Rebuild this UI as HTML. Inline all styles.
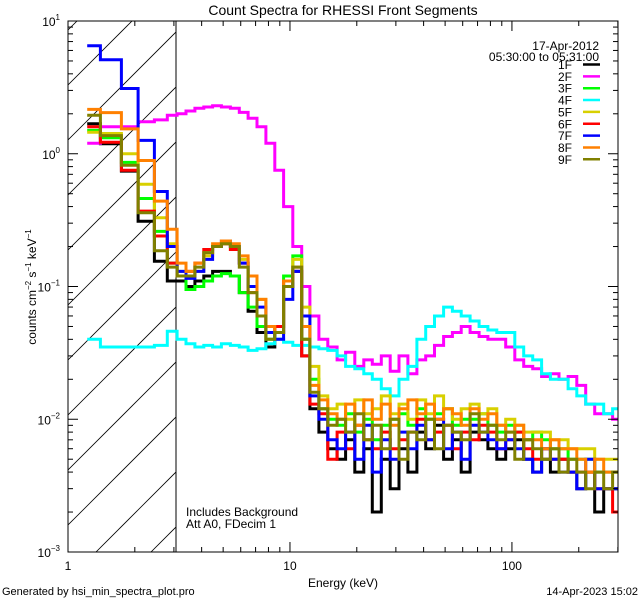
<!DOCTYPE html>
<html><head><meta charset="utf-8"><style>
html,body{margin:0;padding:0;background:#fff;width:640px;height:600px;overflow:hidden}
svg{display:block;font-family:"Liberation Sans",sans-serif}
</style></head><body>
<svg id="chart" width="640" height="600" viewBox="0 0 640 600" xmlns="http://www.w3.org/2000/svg">
<rect width="640" height="600" fill="#fff"/>
<defs>
<clipPath id="plotclip"><rect x="68" y="21" width="550" height="531"/></clipPath>
<clipPath id="hatchclip"><rect x="68" y="21" width="108" height="531"/></clipPath>
</defs>
<text x="343" y="15" font-size="14" text-anchor="middle">Count Spectra for RHESSI Front Segments</text>
<g id="hatch" clip-path="url(#hatchclip)"></g>
<line x1="176" y1="21" x2="176" y2="552" stroke="#000" stroke-width="1"/>
<g id="series" clip-path="url(#plotclip)"></g>
<rect x="68" y="21" width="550" height="531" fill="none" stroke="#000" stroke-width="1"/>
<g id="axes"></g>
<text x="343" y="587" font-size="12" text-anchor="middle">Energy (keV)</text>
<text transform="translate(36,287) rotate(-90)" font-size="12" text-anchor="middle">counts cm<tspan font-size="8" dy="-5">−2</tspan><tspan dy="5"> s</tspan><tspan font-size="8" dy="-5">−1</tspan><tspan dy="5"> keV</tspan><tspan font-size="8" dy="-5">−1</tspan></text>
<text x="186" y="516" font-size="12">Includes Background</text>
<text x="186" y="528" font-size="12">Att A0, FDecim 1</text>
<text x="2" y="595" font-size="11">Generated by hsi_min_spectra_plot.pro</text>
<text x="638" y="595" font-size="11" text-anchor="end">14-Apr-2023 15:02</text>
<text x="599" y="50" font-size="12" text-anchor="end">17-Apr-2012</text>
<text x="599" y="61" font-size="12" text-anchor="end">05:30:00 to 05:31:00</text>
<g id="legend"></g>
</svg>
<script>
const edges=[1.22,1.40,1.74,2.07,2.45,2.80,3.1,3.40,3.73,4.09,4.48,4.91,5.39,5.91,6.48,7.10,7.79,8.54,9.36,10.3,11.3,12.3,13.5,14.8,16.3,17.8,19.6,21.5,23.5,25.8,28.3,31.0,34.0,37.3,40.9,44.8,49.2,53.9,59.1,64.8,71.1,77.9,85.5,93.7,103,113,124,136,149,163,179,196,215,236,259,284,311];
const names=["1F","2F","3F","4F","5F","6F","7F","8F","9F"];
const colors=["#000000","#ff00ff","#00ff00","#00ffff","#d8d000","#ff0000","#0000ff","#ff8000","#808000"];
const s1F=[1.68,1.19,0.74,0.31,0.155,0.11, 0.11,0.1,0.11,0.12,0.13,0.13,0.12,0.09,0.065,0.045,0.035,0.045,0.1,0.13,0.03, 0.012,0.008,0.006,0.005,0.007,0.004,0.006,0.002,0.005,0.003,0.006,0.004,0.008,0.006,0.009,0.005,0.007,0.004,0.008,0.007,0.006,0.005,0.006,0.007,0.005,0.004,0.005,0.004,0.005,0.004,0.003,0.004,0.002,0.003,0.003];
const s2F=[1.2,1.6,1.6,1.74,1.8,1.95, 2.0,2.1,2.2,2.25,2.3,2.25,2.2,2.05,1.85,1.6,1.2,0.75,0.4,0.2,0.1, 0.06,0.04,0.035,0.028,0.032,0.025,0.028,0.026,0.03,0.023,0.03,0.022,0.028,0.03,0.036,0.042,0.045,0.05,0.045,0.042,0.04,0.04,0.035,0.028,0.025,0.024,0.021,0.022,0.02,0.021,0.018,0.013,0.011,0.011,0.01];
const s3F=[1.5,1.32,0.86,0.46,0.26,0.15, 0.12,0.095,0.1,0.11,0.12,0.125,0.12,0.09,0.07,0.05,0.04,0.05,0.12,0.17,0.04, 0.02,0.012,0.01,0.009,0.011,0.008,0.01,0.007,0.009,0.01,0.011,0.009,0.012,0.01,0.011,0.012,0.009,0.01,0.01,0.011,0.009,0.008,0.009,0.008,0.007,0.008,0.007,0.006,0.006,0.005,0.005,0.005,0.004,0.004,0.004];
const s4F=[0.04,0.035,0.035,0.035,0.036,0.046, 0.04,0.037,0.035,0.036,0.035,0.037,0.036,0.035,0.033,0.034,0.037,0.04,0.038,0.036,0.036, 0.035,0.034,0.033,0.03,0.025,0.024,0.022,0.02,0.017,0.015,0.02,0.025,0.04,0.05,0.06,0.07,0.065,0.06,0.055,0.05,0.047,0.045,0.045,0.035,0.03,0.028,0.022,0.02,0.02,0.017,0.015,0.013,0.013,0.011,0.012];
const s5F=[1.45,1.42,1.0,0.59,0.33,0.21, 0.13,0.12,0.13,0.17,0.2,0.21,0.19,0.16,0.12,0.08,0.045,0.05,0.1,0.16,0.07, 0.025,0.015,0.012,0.013,0.01,0.014,0.011,0.012,0.015,0.011,0.013,0.01,0.014,0.011,0.015,0.012,0.01,0.012,0.013,0.011,0.012,0.009,0.01,0.009,0.008,0.008,0.008,0.007,0.007,0.006,0.006,0.006,0.005,0.005,0.005];
const s6F=[1.6,1.22,0.75,0.37,0.24,0.15, 0.12,0.13,0.15,0.19,0.2,0.21,0.19,0.15,0.09,0.06,0.045,0.05,0.11,0.13,0.03, 0.013,0.011,0.005,0.008,0.006,0.009,0.007,0.006,0.008,0.006,0.007,0.008,0.01,0.007,0.008,0.009,0.006,0.008,0.007,0.009,0.008,0.006,0.007,0.008,0.006,0.005,0.006,0.005,0.005,0.004,0.004,0.004,0.003,0.003,0.002];
const s7F=[6.5,5.1,3.1,1.26,0.52,0.20, 0.13,0.115,0.13,0.16,0.2,0.22,0.2,0.15,0.1,0.07,0.045,0.04,0.08,0.13,0.06, 0.015,0.01,0.007,0.006,0.008,0.005,0.009,0.004,0.007,0.005,0.008,0.006,0.009,0.007,0.01,0.006,0.008,0.005,0.009,0.008,0.007,0.006,0.007,0.006,0.005,0.004,0.006,0.005,0.004,0.004,0.003,0.005,0.003,0.003,0.003];
const s8F=[2.16,2.04,1.54,0.89,0.44,0.27, 0.15,0.13,0.15,0.18,0.21,0.22,0.21,0.17,0.12,0.08,0.05,0.045,0.11,0.14,0.05, 0.018,0.014,0.011,0.01,0.013,0.009,0.014,0.01,0.013,0.009,0.012,0.014,0.011,0.013,0.01,0.012,0.011,0.009,0.012,0.01,0.011,0.009,0.008,0.009,0.007,0.007,0.006,0.007,0.006,0.006,0.005,0.004,0.005,0.004,0.004];
const s9F=[1.95,1.37,0.82,0.36,0.186,0.14, 0.12,0.12,0.14,0.18,0.2,0.21,0.2,0.14,0.09,0.06,0.04,0.045,0.1,0.14,0.04, 0.016,0.012,0.009,0.01,0.008,0.011,0.007,0.009,0.006,0.01,0.005,0.008,0.007,0.01,0.006,0.009,0.008,0.007,0.011,0.008,0.009,0.007,0.008,0.005,0.007,0.006,0.005,0.006,0.004,0.005,0.004,0.003,0.004,0.003,0.004];
const series=[s1F,s2F,s3F,s4F,s5F,s6F,s7F,s8F,s9F];
const xTicks=[1,10,100];
const xTickLabels=["1","10","100"];
const yTicks=[10,1,0.1,0.01,0.001];
const yTickExp=["1","0","−1","−2","−3"];

const X0=68,X1=618,Y0=21,Y1=552;
const xMin=Math.log10(1),xMax=Math.log10(300.5),yMin=-3,yMax=1;
const xs=e=>X0+(Math.log10(e)-xMin)/(xMax-xMin)*(X1-X0);
const ys=v=>Y1-(Math.log10(v)-yMin)/(yMax-yMin)*(Y1-Y0);
const NS="http://www.w3.org/2000/svg";
const mk=(t,a,p)=>{const e=document.createElementNS(NS,t);for(const k in a)e.setAttribute(k,a[k]);p.appendChild(e);return e;};

const hg=document.getElementById('hatch');
for(let c=-600;c<700;c+=55){
 const l=mk('line',{x1:X0,y1:c+80,x2:X0+600,y2:c+80-600,stroke:'#000','stroke-width':0.8},hg);
 
 
}

const sg=document.getElementById('series');
series.forEach((vals,i)=>{
 let d='';
 vals.forEach((v,j)=>{
  const xa=xs(edges[j]),xb=xs(edges[j+1]),y=ys(v);
  d+=(j===0?'M':'L')+xa.toFixed(1)+','+y.toFixed(1)+'L'+xb.toFixed(1)+','+y.toFixed(1);
 });
 const p=mk('path',{d:d,fill:'none',stroke:colors[i],'stroke-width':3,'stroke-linejoin':'miter'},sg);
 
 
});

const ag=document.getElementById('axes');
for(let dec=0;dec<3;dec++){
 for(let m=1;m<10;m++){
  const e=m*Math.pow(10,dec); if(e>300.5)continue;
  const x=xs(e),len=(m===1)?10:5;
  const t1=mk('line',{x1:x,y1:Y1,x2:x,y2:Y1-len,stroke:'#000'},ag);
  
  
  const t2=mk('line',{x1:x,y1:Y0,x2:x,y2:Y0+len,stroke:'#000'},ag);
  
  
 }
}
xTicks.forEach((e,i)=>{
 const t=mk('text',{x:xs(e),y:570,'font-size':12,'text-anchor':'middle'},ag);
 t.textContent=xTickLabels[i];
 
 
});
for(let dec=-3;dec<1;dec++){
 for(let m=1;m<10;m++){
  const v=m*Math.pow(10,dec),y=ys(v),len=(m===1)?10:5;
  const t1=mk('line',{x1:X0,y1:y,x2:X0+len,y2:y,stroke:'#000'},ag);
  
  
  const t2=mk('line',{x1:X1,y1:y,x2:X1-len,y2:y,stroke:'#000'},ag);
  
  
 }
}
yTicks.forEach((v,i)=>{
 const t=mk('text',{x:60,y:ys(v)+5,'font-size':12,'text-anchor':'end'},ag);
 t.innerHTML='10<tspan font-size="8" dy="-6">'+yTickExp[i]+'</tspan>';
 
 
});

const lg=document.getElementById('legend');
names.forEach((n,i)=>{
 const y=64.5+i*11.85;
 const t=mk('text',{x:572,y:y+4.5,'font-size':12,'text-anchor':'end'},lg);
 t.textContent=n;
 
 
 const l=mk('line',{x1:583,y1:y,x2:600,y2:y,stroke:colors[i],'stroke-width':2.5},lg);
 
 
});
</script>
</body></html>
